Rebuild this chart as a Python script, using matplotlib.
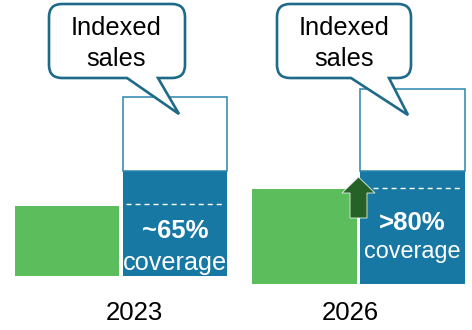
import numpy as np
import matplotlib
matplotlib.use("Agg")
import matplotlib.pyplot as plt
from matplotlib.path import Path
from matplotlib.patches import PathPatch, FancyArrow

plt.rcParams['font.family'] = ['Liberation Sans', 'DejaVu Sans']

# data (indexed sales, arbitrary units)
years = ['2023', '2026']
current_sales = [70, 95]        # green bars
covered_sales = [105, 113]      # solid blue part
indexed_sales = [179, 195]      # full height of the outlined box
coverage_level = [72, 96]       # dashed line
coverage_labels = ['~65%', '>80%']
callout_text = ['Indexed', 'sales']

GREEN = '#5CBD5C'
BLUE = '#1878A4'
DARK_GREEN = '#266228'
CALLOUT_EDGE = '#1E6A88'
BOX_EDGE = '#2B85AE'

W, H = 472, 330
fig = plt.figure(figsize=(W / 100, H / 100), dpi=100)

# panel layout in pixels: left, baseline, left padding to first bar centre
panels = [(0, 276, 67), (236, 284, 68.5)]
unit = 108.0   # px per category step
bw = 0.965

pct_y = [38, 54]
cov_y = [6, 26]
cov_size = [18.2, 16.8]
arrow_from = [None, 66]
arrow_to = [None, 107]

for i, (px, base, pad) in enumerate(panels):
    ax = fig.add_axes([px / W, (H - base) / H, 236 / W, base / H])
    ax.set_xlim(-pad / unit, (236 - pad) / unit)
    ax.set_ylim(0, base)
    ax.axis('off')

    ax.bar(0, current_sales[i], width=bw, color=GREEN, linewidth=0)
    ax.bar(1, covered_sales[i], width=bw, color=BLUE, linewidth=0)
    ax.bar(1, indexed_sales[i] - covered_sales[i], bottom=covered_sales[i],
           width=bw, color='white', edgecolor=BOX_EDGE, linewidth=1.1)
    ax.hlines(coverage_level[i], 1 - bw / 2 + 0.03, 1 + bw / 2 - 0.02,
              colors='white', linewidth=1, linestyles=(0, (3.6, 2.9)))

    ax.text(1, pct_y[i], coverage_labels[i], ha='center', va='baseline',
            color='white', fontsize=18.5, fontweight='bold')
    ax.text(1, cov_y[i], 'coverage', ha='center', va='baseline',
            color='white', fontsize=cov_size[i])

    if arrow_from[i] is not None:
        ax.add_patch(FancyArrow(0.5, arrow_from[i], 0, arrow_to[i] - arrow_from[i],
                                width=0.157, head_width=0.305, head_length=16,
                                length_includes_head=True, facecolor=DARK_GREEN,
                                edgecolor='#E8F0E8', linewidth=0.6, zorder=5))

# overlay for callouts and year labels (pixel coordinates)
ov = fig.add_axes([0, 0, 1, 1], zorder=10)
ov.set_xlim(0, W)
ov.set_ylim(H, 0)
ov.axis('off')
ov.patch.set_alpha(0)


def callout(x0, x1, y0, y1, r, t0, t1, tip):
    verts = [(x0 + r, y0), (x1 - r, y0), (x1, y0), (x1, y0 + r),
             (x1, y1 - r), (x1, y1), (x1 - r, y1),
             (t1, y1), tip, (t0, y1),
             (x0 + r, y1), (x0, y1), (x0, y1 - r),
             (x0, y0 + r), (x0, y0), (x0 + r, y0), (x0 + r, y0)]
    codes = [Path.MOVETO, Path.LINETO, Path.CURVE3, Path.CURVE3,
             Path.LINETO, Path.CURVE3, Path.CURVE3,
             Path.LINETO, Path.LINETO, Path.LINETO,
             Path.LINETO, Path.CURVE3, Path.CURVE3,
             Path.LINETO, Path.CURVE3, Path.CURVE3, Path.CLOSEPOLY]
    return PathPatch(Path(verts, codes), facecolor='white',
                     edgecolor=CALLOUT_EDGE, linewidth=1.9, joinstyle='miter')


callouts = [(49, 185, 4, 78, 13, 127, 158, (179, 114), 116),
            (277, 411, 4, 78, 13, 351, 389, (408, 115), 344)]
for x0, x1, y0, y1, r, t0, t1, tip, tx in callouts:
    ov.add_patch(callout(x0, x1, y0, y1, r, t0, t1, tip))
    ov.text(tx, 35, callout_text[0], ha='center', va='baseline', fontsize=18.3)
    ov.text(tx, 66, callout_text[1], ha='center', va='baseline', fontsize=18.3)

year_x = [134, 350]
for yx, yr in zip(year_x, years):
    ov.text(yx, 320, yr, ha='center', va='baseline', fontsize=18.5)

fig.savefig('out.png', dpi=100, facecolor='white')
